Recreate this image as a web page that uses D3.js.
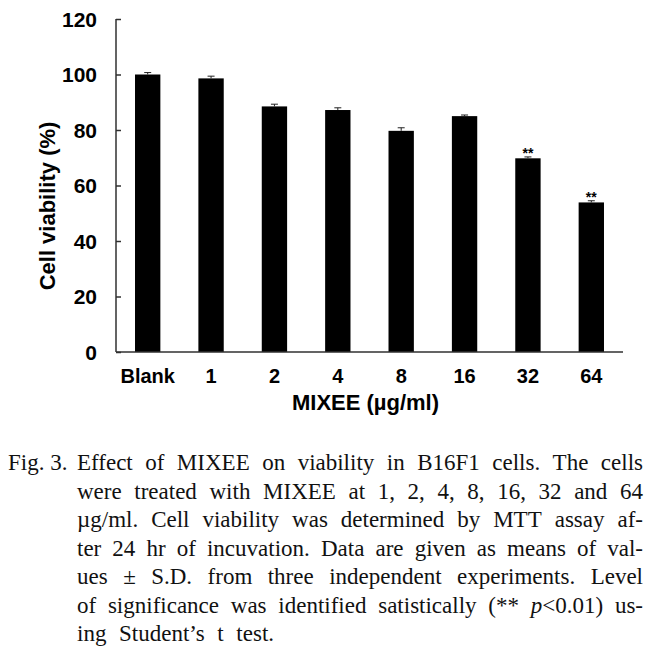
<!DOCTYPE html>
<html>
<head>
<meta charset="utf-8">
<script src="https://cdn.jsdelivr.net/npm/d3@7"></script>
<style>
  html, body { margin: 0; padding: 0; background: #fff; }
  svg { display: block; }
</style>
</head>
<body>
<svg id="chart" width="665" height="663"></svg>
<script>
// ---- data ----
const categories = ["Blank", "1", "2", "4", "8", "16", "32", "64"];
const viability = [100.0, 98.6, 88.5, 87.2, 79.7, 85.0, 69.8, 53.9];
const sdValues = [0.7, 0.8, 0.8, 0.8, 1.1, 0.4, 0.5, 0.6];
const significance = ["", "", "", "", "", "", "**", "**"];
const yTicks = [0, 20, 40, 60, 80, 100, 120];
const yTitle = "Cell viability (%)";
const xTitle = "MIXEE (\u00b5g/ml)";
const captionLabel = "Fig. 3.";
const captionLines = [
  "Effect of MIXEE on viability in B16F1 cells. The cells",
  "were treated with MIXEE at 1, 2, 4, 8, 16, 32 and 64",
  "\u00b5g/ml. Cell viability was determined by MTT assay af-",
  "ter 24 hr of incuvation. Data are given as means of val-",
  "ues \u00b1 S.D. from three independent experiments. Level",
  "of significance was identified satistically (** p<0.01) us-",
  "ing Student\u2019s t test."
];

// ---- layout ----
const svg = d3.select("#chart");
const plotLeft = 116, plotRight = 623, plotTop = 19, plotBottom = 352;
const axisColor = "#303030";
const sansBold = "Arial, 'Liberation Sans', sans-serif";

const x = d3.scaleBand().domain(categories).range([plotLeft, plotRight])
  .paddingInner(0.6).paddingOuter(0.3);
const y = d3.scaleLinear().domain([0, 120]).range([plotBottom, plotTop]);

const data = categories.map((c, i) => ({ c, v: viability[i], e: sdValues[i], s: significance[i] }));

// bars
svg.append("g").selectAll("rect").data(data).join("rect")
  .attr("x", d => x(d.c)).attr("width", x.bandwidth())
  .attr("y", d => y(d.v)).attr("height", d => y(0) - y(d.v))
  .attr("fill", "#000");

// error bars
const eb = svg.append("g").attr("stroke", "#222").attr("stroke-width", 1);
data.forEach(d => {
  const cx = x(d.c) + x.bandwidth() / 2;
  eb.append("line").attr("x1", cx).attr("x2", cx).attr("y1", y(d.v)).attr("y2", y(d.v + d.e));
  eb.append("line").attr("x1", cx - 3.5).attr("x2", cx + 3.5).attr("y1", y(d.v + d.e)).attr("y2", y(d.v + d.e));
});

// significance
svg.append("g").selectAll("text").data(data.filter(d => d.s)).join("text")
  .attr("x", d => x(d.c) + x.bandwidth() / 2)
  .attr("y", d => y(d.v + d.e) + 1)
  .attr("text-anchor", "middle")
  .attr("font-family", sansBold).attr("font-weight", "bold").attr("font-size", 14)
  .text(d => d.s);

// y axis
const yAxis = d3.axisRight(y).tickValues(yTicks).tickSize(5).tickFormat("");
const gy = svg.append("g").attr("transform", `translate(${plotLeft},0)`).call(yAxis);
gy.select(".domain").attr("stroke", axisColor).attr("stroke-width", 1.5).attr("d", `M0,${plotTop}V${plotBottom}`);
gy.selectAll(".tick line").attr("stroke", axisColor).attr("stroke-width", 1.5);

svg.append("g").selectAll("text").data(yTicks).join("text")
  .attr("x", 97).attr("y", d => y(d)).attr("dy", "0.36em")
  .attr("text-anchor", "end")
  .attr("font-family", sansBold).attr("font-weight", "bold").attr("font-size", 21)
  .attr("fill", "#000")
  .text(d => d);

// x axis
const xAxis = d3.axisBottom(x).tickSize(0).tickFormat("");
const gx = svg.append("g").attr("transform", `translate(0,${plotBottom})`).call(xAxis);
gx.select(".domain").attr("stroke", axisColor).attr("stroke-width", 1.5).attr("d", `M${plotLeft},0H${plotRight}`);

svg.append("g").selectAll("text").data(categories).join("text")
  .attr("x", d => x(d) + x.bandwidth() / 2).attr("y", 383)
  .attr("text-anchor", "middle")
  .attr("font-family", sansBold).attr("font-weight", "bold").attr("font-size", 20)
  .text(d => d);

// titles
svg.append("text")
  .attr("transform", "translate(54.5,206) rotate(-90)")
  .attr("text-anchor", "middle")
  .attr("font-family", sansBold).attr("font-weight", "bold").attr("font-size", 22)
  .text(yTitle);

svg.append("text")
  .attr("x", 365.5).attr("y", 410)
  .attr("text-anchor", "middle")
  .attr("font-family", sansBold).attr("font-weight", "bold").attr("font-size", 22)
  .text(xTitle);

// caption (justified)
const serif = "'Liberation Serif', 'Times New Roman', serif";
const capSize = 23;
const capLeft = 77, capRight = 643, capLabelX = 8;
const base0 = 470, lineGap = 28.5;
const cap = svg.append("g").attr("font-family", serif).attr("font-size", capSize).attr("fill", "#111");

cap.append("text").attr("x", capLabelX).attr("y", base0).text(captionLabel);

captionLines.forEach((line, li) => {
  const yy = base0 + li * lineGap;
  const words = line.split(" ");
  const nodes = words.map(w => {
    const t = cap.append("text").attr("y", yy);
    if (w.startsWith("p<")) {
      t.append("tspan").attr("font-style", "italic").text("p");
      t.append("tspan").text(w.slice(1));
    } else {
      t.text(w);
    }
    return t;
  });
  const widths = nodes.map(n => n.node().getComputedTextLength());
  const total = d3.sum(widths);
  const last = li === captionLines.length - 1;
  const gap = last ? capSize * 0.55 : (capRight - capLeft - total) / (words.length - 1);
  let cx = capLeft;
  nodes.forEach((n, i) => { n.attr("x", cx); cx += widths[i] + gap; });
});
</script>
</body>
</html>
